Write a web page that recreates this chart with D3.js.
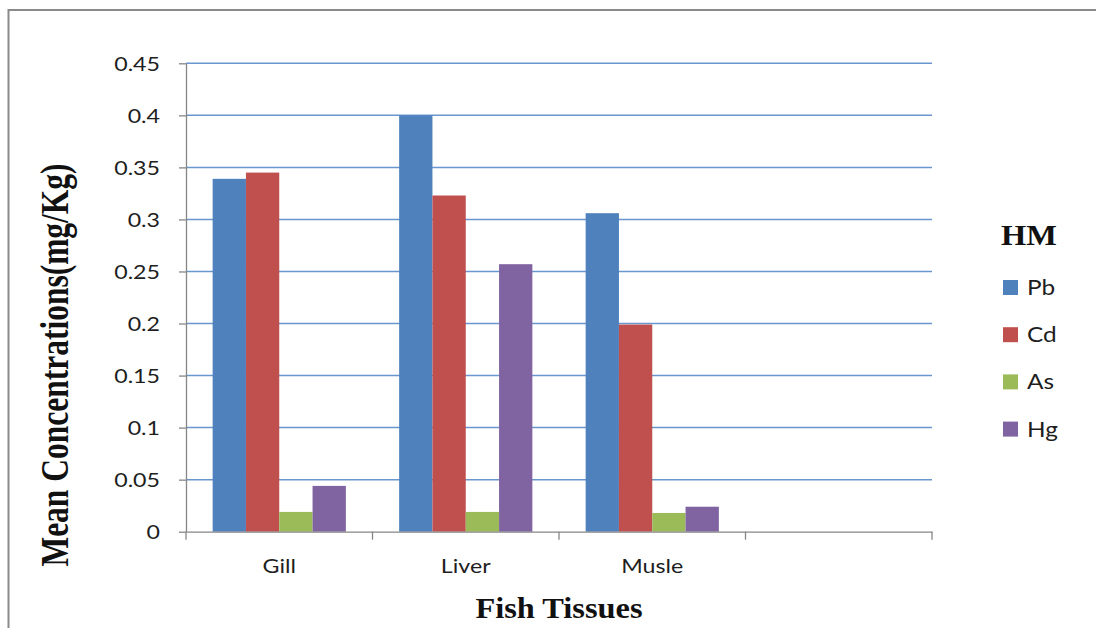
<!DOCTYPE html>
<html>
<head>
<meta charset="utf-8">
<script src="https://cdn.jsdelivr.net/npm/d3@7"></script>
<style>
  html, body { margin: 0; padding: 0; background: #fff; }
  svg { display: block; }
</style>
</head>
<body>
<svg id="chart" width="1096" height="628"></svg>
<script>
// ---- data ----
const categories = ["Gill", "Liver", "Musle", ""];
const seriesNames = ["Pb", "Cd", "As", "Hg"];
const Pb = [0.339, 0.400, 0.306, null];
const Cd = [0.345, 0.323, 0.199, null];
const As = [0.019, 0.019, 0.018, null];
const Hg = [0.044, 0.257, 0.024, null];
const yTicks = [0, 0.05, 0.1, 0.15, 0.2, 0.25, 0.3, 0.35, 0.4, 0.45];
const yTickLabels = ["0", "0.05", "0.1", "0.15", "0.2", "0.25", "0.3", "0.35", "0.4", "0.45"];
const xTitle = "Fish Tissues";
const yTitle = "Mean Concentrations(mg/Kg)";
const legendTitle = "HM";

const seriesValues = { Pb, Cd, As, Hg };
const colors = { Pb: "#4F81BD", Cd: "#C0504D", As: "#9BBB59", Hg: "#8064A2" };

// ---- layout ----
const svg = d3.select("#chart");
const plotL = 186, plotR = 932, plotT = 63.3, plotB = 531.7;
const sansFont = "Lato, 'Open Sans', sans-serif";
const serifFont = "'Liberation Serif', 'DejaVu Serif', serif";
const stretch = 1.16;

// frame
svg.append("path")
  .attr("d", "M8.5,628 L8.5,10 L1096,10")
  .attr("fill", "none").attr("stroke", "#8a8a8a").attr("stroke-width", 2);

const x0 = d3.scaleBand().domain(categories).range([plotL, plotR]).padding(0);
const x1 = d3.scaleBand().domain(seriesNames).range([0, x0.bandwidth()])
  .paddingInner(0).paddingOuter(0.8);
const y = d3.scaleLinear().domain([0, 0.45]).range([plotB, plotT]);

// gridlines
svg.append("g").selectAll("line").data(yTicks.filter(d => d > 0)).join("line")
  .attr("x1", plotL).attr("x2", plotR)
  .attr("y1", d => y(d)).attr("y2", d => y(d))
  .attr("stroke", "#6a96cf").attr("stroke-width", 1.5);

// bars
const rows = categories.map((c, i) => ({ c, vals: seriesNames.map(s => ({ s, v: seriesValues[s][i] })) }));
svg.append("g").selectAll("g").data(rows).join("g")
  .attr("transform", d => `translate(${x0(d.c)},0)`)
  .selectAll("rect").data(d => d.vals.filter(v => v.v != null)).join("rect")
  .attr("x", d => x1(d.s))
  .attr("width", x1.bandwidth())
  .attr("y", d => y(d.v))
  .attr("height", d => y(0) - y(d.v))
  .attr("fill", d => colors[d.s]);

// y axis
const yAxis = svg.append("g").attr("transform", `translate(${plotL},0)`)
  .call(d3.axisLeft(y).tickValues(yTicks).tickFormat((d, i) => yTickLabels[i]).tickSize(7).tickSizeOuter(0));
yAxis.select(".domain").attr("stroke", "#868686").attr("stroke-width", 1.3);
yAxis.selectAll(".tick line").attr("stroke", "#868686").attr("stroke-width", 1.3);
yAxis.selectAll(".tick text")
  .attr("font-family", sansFont).attr("font-size", 20).attr("fill", "#1e1e1e")
  .attr("x", -26 / stretch).attr("dy", "0.36em")
  .attr("transform", `scale(${stretch},1)`);

// x axis
const xAxis = svg.append("g").attr("transform", `translate(0,${plotB})`)
  .call(d3.axisBottom(x0).tickSize(0).tickSizeOuter(0));
xAxis.select(".domain").attr("stroke", "#868686").attr("stroke-width", 1.3);
xAxis.selectAll(".tick text")
  .attr("font-family", sansFont).attr("font-size", 20).attr("fill", "#1e1e1e")
  .attr("y", 0).attr("dy", 0)
  .attr("transform", `translate(0,${573 - plotB}) scale(${stretch},1)`);
const bounds = categories.map(c => x0(c)).concat([x0.range()[1]]);
xAxis.append("g").selectAll("line").data(bounds).join("line")
  .attr("x1", d => d).attr("x2", d => d).attr("y1", 0).attr("y2", 8)
  .attr("stroke", "#868686").attr("stroke-width", 1.3);

// axis titles
svg.append("text")
  .attr("transform", `translate(559,618) scale(1.08,1)`)
  .attr("text-anchor", "middle")
  .attr("font-family", serifFont).attr("font-weight", "bold").attr("font-size", 30)
  .attr("fill", "#111").text(xTitle);

svg.append("text")
  .attr("transform", `translate(68,365) scale(1.25,1) rotate(-90)`)
  .attr("text-anchor", "middle")
  .attr("font-family", serifFont).attr("font-weight", "bold").attr("font-size", 31.5)
  .attr("fill", "#111").text(yTitle);

// legend
svg.append("text")
  .attr("transform", `translate(1029,245) scale(1.08,1)`)
  .attr("text-anchor", "middle")
  .attr("font-family", serifFont).attr("font-weight", "bold").attr("font-size", 30)
  .attr("fill", "#111").text(legendTitle);

const leg = svg.append("g").selectAll("g").data(seriesNames).join("g")
  .attr("transform", (d, i) => `translate(1003,${287.5 + i * 47.2})`);
leg.append("rect").attr("x", 0).attr("y", -7.5).attr("width", 15).attr("height", 15)
  .attr("fill", d => colors[d]);
leg.append("text")
  .attr("transform", `translate(24,0) scale(${stretch},1)`)
  .attr("dy", "0.36em")
  .attr("font-family", sansFont).attr("font-size", 21).attr("fill", "#1e1e1e")
  .text(d => d);
</script>
</body>
</html>
